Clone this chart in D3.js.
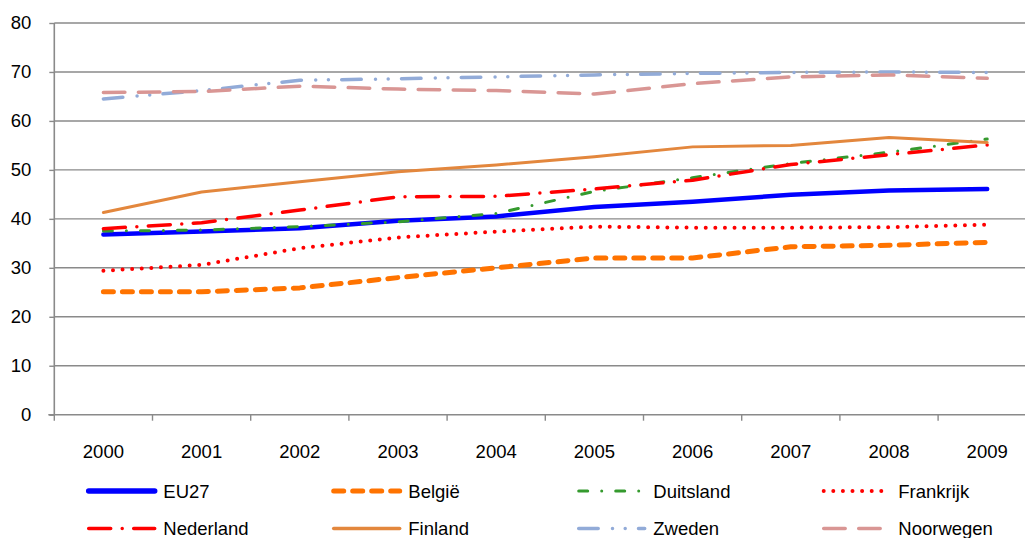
<!DOCTYPE html>
<html>
<head>
<meta charset="utf-8">
<script src="https://cdn.jsdelivr.net/npm/d3@7/dist/d3.min.js"></script>
<style>
html,body{margin:0;padding:0;background:#fff;}
svg{display:block;}
text{font-family:"Liberation Sans",Arial,sans-serif;fill:#000;}
</style>
</head>
<body>
<svg id="chart" width="1025" height="538"></svg>
<script>
const years = ["2000","2001","2002","2003","2004","2005","2006","2007","2008","2009"];
const yTicks = [0,10,20,30,40,50,60,70,80];

const seriesNames = ["EU27","België","Duitsland","Frankrijk","Nederland","Finland","Zweden","Noorwegen"];
const eu27      = [36.8, 37.4, 38.1, 39.6, 40.5, 42.4, 43.5, 44.9, 45.8, 46.1];
const belgie    = [25.1, 25.1, 25.9, 28.0, 30.0, 32.0, 32.0, 34.3, 34.6, 35.2];
const duitsland = [37.5, 37.7, 38.4, 39.4, 41.1, 45.6, 48.4, 51.3, 53.6, 56.3];
const frankrijk = [29.4, 30.6, 34.0, 36.2, 37.4, 38.4, 38.2, 38.2, 38.3, 38.8];
const nederland = [38.0, 39.2, 41.8, 44.5, 44.6, 46.1, 47.9, 51.1, 53.1, 55.1];
const finland   = [41.3, 45.5, 47.6, 49.6, 51.0, 52.7, 54.7, 55.0, 56.6, 55.6];
const zweden    = [64.5, 66.2, 68.3, 68.6, 69.0, 69.4, 69.7, 69.9, 70.0, 69.9];
const noorwegen = [65.8, 66.0, 67.1, 66.5, 66.2, 65.5, 67.6, 69.0, 69.4, 68.7];

const seriesValues = [eu27, belgie, duitsland, frankrijk, nederland, finland, zweden, noorwegen];
const styles = [
  {color:"#0000FF", width:4.5, lw:5.5, dash:null, cap:"round"},
  {color:"#FF7300", width:5, lw:5, dash:"10 9", cap:"round"},
  {color:"#359A2E", width:3, lw:3, dash:"9 14 0 14", cap:"round"},
  {color:"#FF0000", width:4, lw:4, dash:"0 9.6", cap:"round"},
  {color:"#FF0000", width:3.5, lw:3.5, dash:"22 11.5 0 11.5", cap:"round"},
  {color:"#E3873D", width:3, lw:3.5, dash:null, cap:"round"},
  {color:"#92ABD8", width:3.5, lw:3.5, dash:"19.5 14.3 0 12.7 0 13.3", cap:"round"},
  {color:"#D99694", width:3.5, lw:3.5, dash:"21.5 13.5", cap:"round"}
];

const svg = d3.select("#chart");
const plotLeft = 54.3, plotBottom = 414.7, plotTop = 23;
const x = d3.scaleBand().domain(years).range([plotLeft, plotLeft + 982]).paddingInner(0).paddingOuter(0);
const y = d3.scaleLinear().domain([0, 80]).range([plotBottom, plotTop]);
const grey = "#8A8A8A";

// gridlines
svg.append("g").selectAll("line").data(yTicks.filter(d => d > 0)).join("line")
  .attr("x1", plotLeft).attr("x2", 1025)
  .attr("y1", d => y(d)).attr("y2", d => y(d))
  .attr("stroke", grey).attr("stroke-width", 1.4);

// y axis
const yAxis = svg.append("g").attr("transform", `translate(${plotLeft},0)`)
  .call(d3.axisLeft(y).tickValues(yTicks).tickSize(5).tickPadding(18).tickFormat(d3.format("d")));
yAxis.select(".domain").attr("stroke", grey).attr("stroke-width", 1.6).attr("d", `M0,${plotTop}V${plotBottom}`);
yAxis.selectAll(".tick line").attr("stroke", grey).attr("stroke-width", 1.4);
yAxis.selectAll(".tick text").style("font-size", "18.5px").attr("fill", "#000")
  .attr("font-family", "Liberation Sans, Arial, sans-serif");

// x axis
const xAxis = svg.append("g").attr("transform", `translate(0,${plotBottom})`)
  .call(d3.axisBottom(x).tickSize(0).tickPadding(30));
xAxis.select(".domain").attr("stroke", grey).attr("stroke-width", 1.6).attr("d", `M${plotLeft-6},0H1025`);
xAxis.selectAll(".tick text").style("font-size", "18.5px").attr("fill", "#000")
  .attr("font-family", "Liberation Sans, Arial, sans-serif");
// boundary tick marks
svg.append("g").selectAll("line").data(years).join("line")
  .attr("x1", d => x(d)).attr("x2", d => x(d))
  .attr("y1", plotBottom).attr("y2", plotBottom + 6)
  .attr("stroke", grey).attr("stroke-width", 1.4);

// lines
const line = d3.line().x((d, i) => x(years[i]) + x.bandwidth() / 2).y(d => y(d));
seriesValues.forEach((vals, k) => {
  const s = styles[k];
  svg.append("path").datum(vals)
    .attr("d", line)
    .attr("fill", "none")
    .attr("stroke", s.color)
    .attr("stroke-width", s.width)
    .attr("stroke-linecap", s.cap)
    .attr("stroke-linejoin", "round")
    .attr("stroke-dasharray", s.dash);
});

// legend
const legend = svg.append("g");
seriesNames.forEach((name, k) => {
  const col = k % 4, row = Math.floor(k / 4);
  const lx = 86.7 + 245 * col;
  const ly = row === 0 ? 491 : 528.5;
  const s = styles[k];
  legend.append("line")
    .attr("x1", lx + 2).attr("x2", lx + 68).attr("y1", ly).attr("y2", ly)
    .attr("stroke", s.color).attr("stroke-width", s.lw)
    .attr("stroke-linecap", s.cap).attr("stroke-dasharray", s.dash);
  legend.append("text")
    .attr("x", lx + 76.6).attr("y", ly).attr("dy", "0.36em")
    .style("font-size", "18.5px").text(name);
});
</script>
</body>
</html>
